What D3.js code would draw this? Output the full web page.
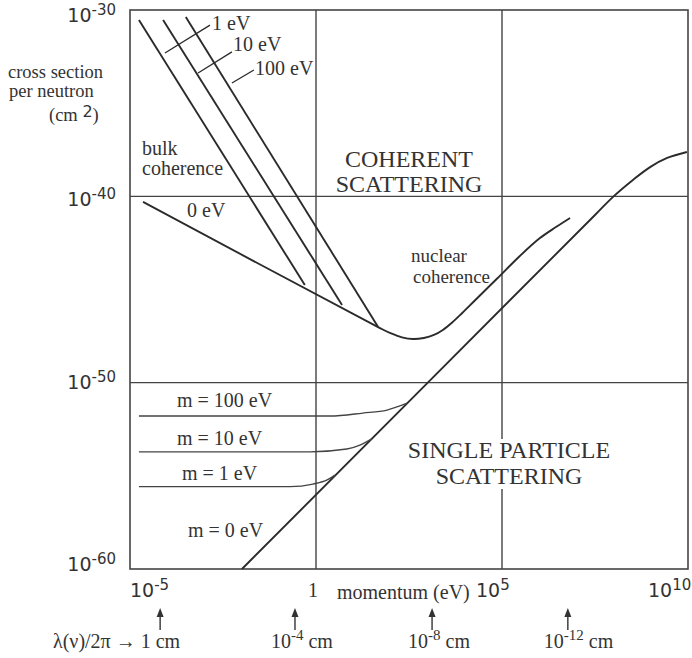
<!DOCTYPE html>
<html>
  <head>
    <meta charset="UTF-8" />
    <style>
      body { margin: 0; background: #fff; }
      svg { display: block; }
      .serif { font-family: "Liberation Serif", "DejaVu Serif", serif; font-size: 20px; fill: #333; }
      .big { font-family: "Liberation Serif", serif; font-size: 24px; fill: #333; }
      .tick { font-family: "DejaVu Sans", sans-serif; font-size: 19px; fill: #333; }
    </style>
  </head>
  <body>
    <svg></svg>
    <script src="https://d3js.org/d3.v7.min.js"></script>
    <script>
      // curves as [log10 momentum (eV), log10 cross section (cm^2)]
      const bulk1eV = [[-4.76, -30.54], [-0.30, -44.76]];
      const bulk10eV = [[-4.11, -30.54], [0.70, -45.83]];
      const bulk100eV = [[-3.50, -30.38], [1.67, -47.01]];
      const coherent0eV = [
        [-4.65, -40.30], [1.72, -47.07], [2.02, -47.36], [2.31, -47.57],
        [2.61, -47.66], [2.90, -47.60], [3.17, -47.44], [3.41, -47.17],
        [3.66, -46.77], [3.93, -46.26], [4.27, -45.59], [4.87, -44.41],
        [5.48, -43.20], [6.02, -42.24], [6.45, -41.65], [6.83, -41.16]
      ];
      const single0eV = [
        [-1.99, -60.0], [7.5, -41.0], [8.0, -40.0], [8.52, -39.12],
        [8.98, -38.43], [9.44, -37.94], [9.97, -37.62]
      ];
      const single1eV = [[-4.76, -55.58], [-0.70, -55.58], [-0.08, -55.44], [0.30, -55.22], [0.51, -54.96]];
      const single10eV = [[-4.76, -53.71], [-0.16, -53.71], [0.83, -53.56], [1.18, -53.35], [1.51, -53.0]];
      const single100eV = [[-4.76, -51.79], [0.38, -51.79], [1.26, -51.63], [1.91, -51.47], [2.45, -51.1]];

      // leader lines from the bulk lines to their labels
      const leaders = [
        [[-4.06, -32.31], [-2.85, -30.81]],
        [[-3.17, -33.38], [-2.26, -32.25]],
        [[-2.26, -33.92], [-1.67, -33.22]]
      ];

      const xTicks = [1e-5, 1, 1e5, 1e10];
      const yTicks = [1e-30, 1e-40, 1e-50, 1e-60];
      const yTickExp = ["-30", "-40", "-50", "-60"];
      const xGrid = [1, 1e5];
      const yGrid = [1e-40, 1e-50];

      // wavelength markers below the axis (log10 momentum)
      const lambdaPos = [-4.19, -0.565, 3.12, 6.77];
      const lambdaExp = [null, "-4", "-8", "-12"];

      let width = 692,
        height = 658;
      let svg = d3.select("svg").attr("width", width).attr("height", height);

      let x = d3.scaleLog().domain([1e-5, 1e10]).range([130, 688]);
      let y = d3.scaleLog().domain([1e-60, 1e-30]).range([569, 10]);

      let line = d3
        .line()
        .x((d) => x(Math.pow(10, d[0])))
        .y((d) => y(Math.pow(10, d[1])))
        .curve(d3.curveMonotoneX);
      let smooth = d3
        .line()
        .x((d) => x(Math.pow(10, d[0])))
        .y((d) => y(Math.pow(10, d[1])))
        .curve(d3.curveCatmullRom.alpha(0.5));
      let straight = d3
        .line()
        .x((d) => x(Math.pow(10, d[0])))
        .y((d) => y(Math.pow(10, d[1])));

      // grid + frame
      let grid = svg.append("g").attr("stroke", "#444").attr("stroke-width", 1.4);
      grid
        .selectAll(".vg")
        .data(xGrid)
        .join("line")
        .attr("x1", (d) => x(d))
        .attr("x2", (d) => x(d))
        .attr("y1", y(1e-30))
        .attr("y2", y(1e-60));
      grid
        .selectAll(".hg")
        .data(yGrid)
        .join("line")
        .attr("x1", x(1e-5))
        .attr("x2", x(1e10))
        .attr("y1", (d) => y(d))
        .attr("y2", (d) => y(d));
      svg
        .append("rect")
        .attr("x", x(1e-5))
        .attr("y", y(1e-30))
        .attr("width", x(1e10) - x(1e-5))
        .attr("height", y(1e-60) - y(1e-30))
        .attr("fill", "none")
        .attr("stroke", "#444")
        .attr("stroke-width", 1.6);

      // curves
      let curves = svg.append("g").attr("fill", "none").attr("stroke", "#2b2b2b");
      [bulk1eV, bulk10eV, bulk100eV].forEach((c) => {
        curves.append("path").attr("d", straight(c)).attr("stroke-width", 1.9);
      });
      curves.append("path").attr("d", smooth(coherent0eV)).attr("stroke-width", 1.9);
      curves.append("path").attr("d", smooth(single0eV)).attr("stroke-width", 1.9);
      [single1eV, single10eV, single100eV].forEach((c) => {
        curves.append("path").attr("d", line(c)).attr("stroke-width", 1.3).attr("stroke", "#444");
      });
      leaders.forEach((c) => {
        curves.append("path").attr("d", straight(c)).attr("stroke-width", 1.3);
      });

      // y tick labels
      let yt = svg
        .append("g")
        .selectAll("text")
        .data(yTicks)
        .join("text")
        .attr("class", "tick")
        .attr("x", 116)
        .attr("y", (d, i) => y(d) + [12, 10, 6, 2][i])
        .attr("text-anchor", "end");
      yt.append("tspan").text("10");
      yt.append("tspan")
        .attr("dy", -7)
        .style("font-size", "15px")
        .text((d, i) => yTickExp[i]);

      // x tick labels
      let xtPos = [130, 476, 648];
      [xTicks[0], xTicks[2], xTicks[3]].forEach((v, i) => {
        let t = svg
          .append("text")
          .attr("class", "tick")
          .attr("x", xtPos[i])
          .attr("y", 597);
        t.append("tspan").text("10");
        t.append("tspan")
          .attr("dy", -7)
          .style("font-size", "15px")
          .text(Math.round(Math.log10(v)));
      });
      svg.append("text").attr("class", "serif").attr("x", x(xTicks[1]) - 3).attr("y", 597).attr("text-anchor", "middle").text("1");
      svg.append("text").attr("class", "serif").attr("x", 337).attr("y", 599).text("momentum (eV)");

      // y axis title
      let yTitle = svg.append("g").attr("class", "serif").style("font-size", "18.5px");
      yTitle.append("text").attr("x", 8).attr("y", 78).text("cross section");
      yTitle.append("text").attr("x", 9).attr("y", 97).text("per neutron");
      let cm = yTitle.append("text").attr("x", 49).attr("y", 121);
      cm.append("tspan").text("(cm ");
      cm.append("tspan").attr("dy", -4).style("font-family", "DejaVu Sans").style("font-size", "16px").text("2");
      cm.append("tspan").attr("dy", 4).text(")");

      // wavelength arrows
      let arr = svg.append("g");
      lambdaPos.forEach((p, i) => {
        let ax = x(Math.pow(10, p));
        arr.append("line").attr("x1", ax).attr("x2", ax).attr("y1", 630).attr("y2", 614).attr("stroke", "#333").attr("stroke-width", 1.4);
        arr.append("path").attr("d", `M${ax - 3.5},${617}L${ax},${608}L${ax + 3.5},${617}Z`).attr("fill", "#333");
        let t = arr.append("text").attr("class", "serif").attr("y", 648);
        if (lambdaExp[i] === null) {
          t.attr("x", 53).text("λ(ν)/2π → 1 cm");
        } else {
          t.attr("x", ax - 24);
          t.append("tspan").text("10");
          t.append("tspan").attr("dy", -8).style("font-size", "15px").text(lambdaExp[i]);
          t.append("tspan").attr("dy", 8).text(" cm");
        }
      });

      // annotations
      const ann = [
        ["1 eV", 212, 30],
        ["10 eV", 233, 51],
        ["100 eV", 255, 75],
        ["bulk", 142, 155],
        ["coherence", 142, 175],
        ["0 eV", 187, 217],
        ["m = 100 eV", 177, 407],
        ["m = 10 eV", 177, 445],
        ["m = 1 eV", 182, 480],
        ["m = 0 eV", 188, 537]
      ];
      ann.forEach((a) => {
        svg.append("text").attr("class", "serif").attr("x", a[1]).attr("y", a[2]).text(a[0]);
      });
      let nuc = svg.append("g").attr("class", "serif").style("font-size", "19px");
      nuc.append("text").attr("x", 411).attr("y", 262).text("nuclear");
      nuc.append("text").attr("x", 413).attr("y", 283).text("coherence");

      let coh = svg.append("g").attr("class", "big").attr("text-anchor", "middle");
      coh.append("text").attr("x", 409).attr("y", 167).text("COHERENT");
      coh.append("text").attr("x", 409).attr("y", 192).text("SCATTERING");

      let sp = svg.append("g");
      let spText = sp.append("g").attr("class", "big").attr("text-anchor", "middle");
      spText.append("text").attr("x", 509).attr("y", 458).text("SINGLE PARTICLE");
      spText.append("text").attr("x", 509).attr("y", 484).text("SCATTERING");
      let bb = spText.node().getBBox();
      sp.insert("rect", "g")
        .attr("x", bb.x - 2)
        .attr("y", bb.y + 2)
        .attr("width", bb.width + 4)
        .attr("height", bb.height - 2)
        .attr("fill", "#fff");
    </script>
  </body>
</html>
